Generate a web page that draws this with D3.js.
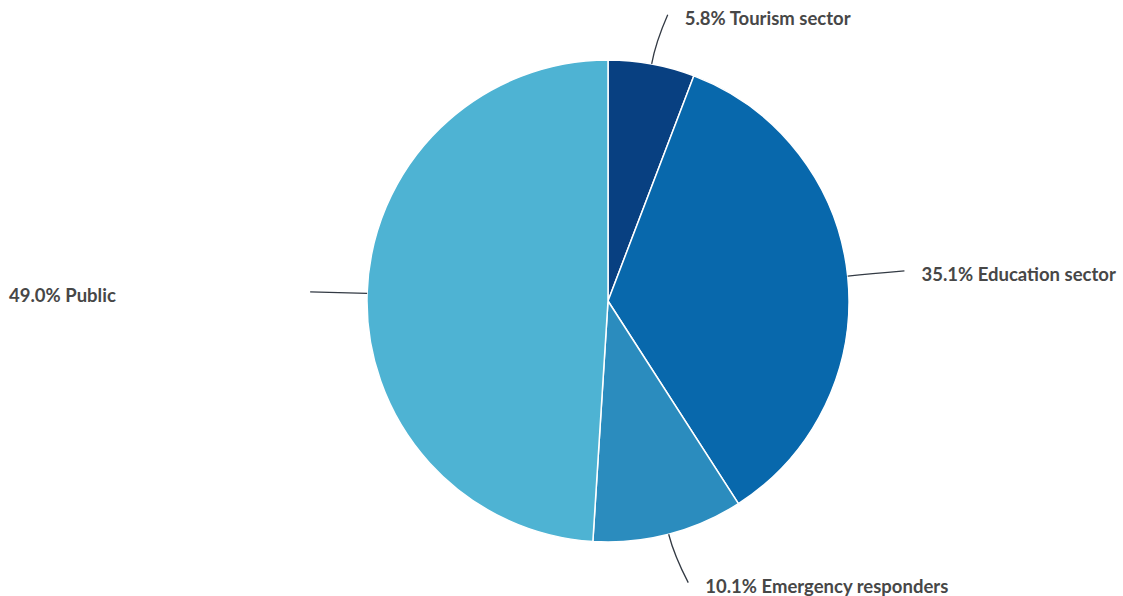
<!DOCTYPE html>
<html>
<head>
<meta charset="utf-8">
<script src="https://cdn.jsdelivr.net/npm/d3@7"></script>
<style>
  html, body { margin: 0; padding: 0; background: #fff; }
  svg text { font-family: Lato, "Open Sans", sans-serif; font-weight: 700; }
</style>
</head>
<body>
<svg id="chart" width="1123" height="596"></svg>
<script>
// Share of respondents by sector
const categories = ["Tourism sector", "Education sector", "Emergency responders", "Public"];
const shares = [5.8, 35.1, 10.1, 49.0];
const colors = ["#084081", "#0868ac", "#2b8cbe", "#4eb3d3"];

const width = 1123, height = 596;
const cx = 608, cy = 301, radius = 241;
const labelDistance = 50;

const svg = d3.select("#chart");
const g = svg.append("g").attr("transform", `translate(${cx},${cy})`);

const data = categories.map((c, i) => ({ name: c, value: shares[i], color: colors[i] }));
const pie = d3.pie().sort(null).value(d => d.value);
const arc = d3.arc().innerRadius(0).outerRadius(radius);
const arcs = pie(data);

g.selectAll("path.slice")
  .data(arcs)
  .join("path")
  .attr("class", "slice")
  .attr("d", arc)
  .attr("fill", d => d.data.color)
  .attr("stroke", "#fff")
  .attr("stroke-width", 1.5)
  .attr("stroke-linejoin", "round");

function polar(r, a) { return [r * Math.sin(a), -r * Math.cos(a)]; }

arcs.forEach(d => {
  const mid = (d.startAngle + d.endAngle) / 2;
  const right = Math.sin(mid) >= 0;
  const start = polar(radius, mid);
  const ctrl = polar(radius + 22, mid);
  const end = polar(radius + labelDistance, mid);
  end[0] += right ? 7 : -7;

  g.append("path")
    .attr("d", `M${start[0]},${start[1]} Q${ctrl[0]},${ctrl[1]} ${end[0]},${end[1]}`)
    .attr("fill", "none")
    .attr("stroke", "#333a44")
    .attr("stroke-width", 1.3);

  const label = `${d.data.value.toFixed(1)}% ${d.data.name}`;
  const t = g.append("text")
    .attr("y", end[1] + 3.5)
    .attr("dy", "0.35em")
    .attr("font-size", 18.5)
    .attr("fill", "#474747")
    .text(label);
  if (right) {
    t.attr("x", end[0] + 17).attr("text-anchor", "start");
  } else {
    // left-hand labels sit against the left margin
    t.attr("x", 9 - cx).attr("text-anchor", "start");
  }
});
</script>
</body>
</html>
